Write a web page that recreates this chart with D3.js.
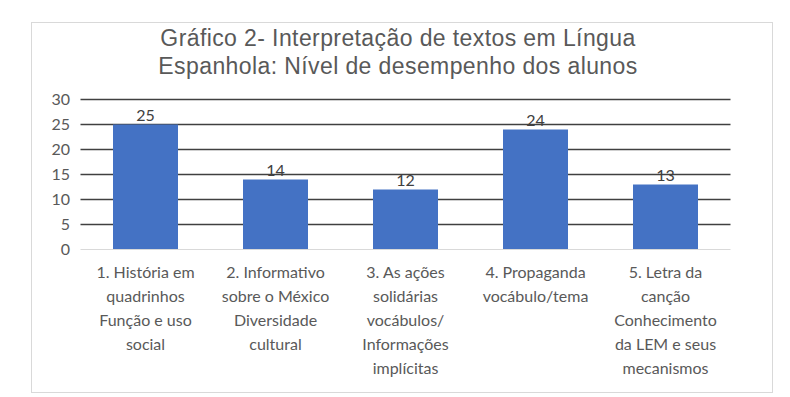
<!DOCTYPE html>
<html>
<head>
<meta charset="utf-8">
<script src="https://cdn.jsdelivr.net/npm/d3@7"></script>
<style>
  body { margin: 0; background: #fff; }
  svg { display: block; }
</style>
</head>
<body>
<div id="chart"></div>
<script>
// Dados do gráfico
const titleLines = ["Gráfico 2- Interpretação de textos em Língua", "Espanhola: Nível de desempenho dos alunos"]
const categories = [
  ["1. História em", "quadrinhos", "Função e uso", "social"],
  ["2. Informativo", "sobre o México", "Diversidade", "cultural"],
  ["3. As ações", "solidárias", "vocábulos/", "Informações", "implícitas"],
  ["4. Propaganda", "vocábulo/tema"],
  ["5. Letra da", "canção", "Conhecimento", "da LEM e seus", "mecanismos"]
]
const values = [25, 14, 12, 24, 13]
const yTicks = [0, 5, 10, 15, 20, 25, 30]

const W = 790, H = 397
const svg = d3.select("#chart").append("svg")
  .attr("width", W).attr("height", H)

// moldura
svg.append("rect")
  .attr("x", 31.5).attr("y", 22.5)
  .attr("width", 741).attr("height", 370)
  .attr("fill", "#fff").attr("stroke", "#d9d9d9")

// titulo
svg.append("g").selectAll("text")
  .data(titleLines)
  .join("text")
  .attr("x", 398)
  .attr("y", (d, i) => 46 + i * 28)
  .attr("text-anchor", "middle")
  .attr("font-family", "Liberation Sans, Arial, sans-serif")
  .attr("font-size", 23)
  .attr("letter-spacing", 0.4)
  .attr("fill", "#595959")
  .text(d => d)

const keys = categories.map((d, i) => i)
const x = d3.scaleBand().domain(keys).range([80.5, 730.5])
  .paddingInner(0.5).paddingOuter(0.25)
const y = d3.scaleLinear().domain([0, 30]).range([249.5, 99.5])

// grade
svg.append("g").selectAll("line")
  .data(yTicks.filter(t => t > 0))
  .join("line")
  .attr("x1", 80.5).attr("x2", 730.5)
  .attr("y1", d => y(d)).attr("y2", d => y(d))
  .attr("stroke", "#404040").attr("stroke-width", 1.6)

// eixo y
const yAxis = svg.append("g")
  .attr("transform", "translate(70,0)")
  .call(d3.axisLeft(y).tickValues(yTicks).tickSize(0).tickPadding(0))
yAxis.select(".domain").remove()
yAxis.selectAll("text")
  .attr("font-family", "Lato, Open Sans, sans-serif")
  .attr("font-size", 16)
  .attr("fill", "#595959")

// barras
svg.append("g").selectAll("rect")
  .data(values)
  .join("rect")
  .attr("x", (d, i) => x(i))
  .attr("y", d => y(d))
  .attr("width", x.bandwidth())
  .attr("height", d => y(0) - y(d))
  .attr("fill", "#4472c4")

// linha zero
svg.append("line")
  .attr("x1", 80.5).attr("x2", 730.5)
  .attr("y1", y(0)).attr("y2", y(0))
  .attr("stroke", "#d9d9d9").attr("stroke-width", 1)

// rotulos de valor
svg.append("g").selectAll("text")
  .data(values)
  .join("text")
  .attr("x", (d, i) => x(i) + x.bandwidth() / 2)
  .attr("y", d => y(d) - 4)
  .attr("text-anchor", "middle")
  .attr("font-family", "Lato, Open Sans, sans-serif")
  .attr("font-size", 16)
  .attr("fill", "#404040")
  .text(d => d)

// rotulos de categoria
const cat = svg.append("g").selectAll("text")
  .data(categories)
  .join("text")
  .attr("text-anchor", "middle")
  .attr("font-family", "Lato, Open Sans, sans-serif")
  .attr("font-size", 16)
  .attr("fill", "#595959")
cat.selectAll("tspan")
  .data((d, i) => d.map(t => ({t, i})))
  .join("tspan")
  .attr("x", d => x(d.i) + x.bandwidth() / 2)
  .attr("y", (d, j) => 278 + j * 24)
  .text(d => d.t)
</script>
</body>
</html>
